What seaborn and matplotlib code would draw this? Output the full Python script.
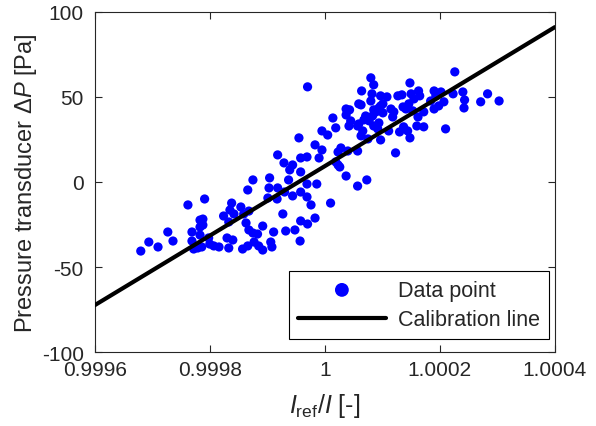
import numpy as np
import pandas as pd
import matplotlib
matplotlib.use("Agg")
import matplotlib.pyplot as plt
import seaborn as sns

# measured points: I_ref/I [-] and pressure transducer dP [Pa]
i_ratio = [
    0.99968, 0.999694, 0.99971, 0.999727, 0.999736, 0.999762, 0.999769, 0.999769,
    0.999772, 0.999779, 0.999783, 0.999783, 0.999783,
    0.999955, 0.999918, 0.999929, 0.999944, 0.999939, 0.999958, 0.999958, 0.999904,
    0.999875, 0.999937, 0.999969, 0.999903, 0.999918, 0.999866, 0.99993, 0.999944,
    0.999958, 0.999917, 0.999791, 0.999838, 0.999854, 0.999901, 0.999835, 0.999868,
    0.999859, 0.999842, 0.999824, 0.999927, 0.999788, 0.999788, 0.999833, 0.999863,
    0.999892, 0.999868, 0.999875, 0.999883, 0.999911, 0.999932, 0.999948, 0.99983,
    0.99984, 0.999798, 0.9998, 0.999807, 0.999816, 0.999833, 0.999786, 0.999857,
    0.999866, 0.999877, 0.999885, 0.999892, 0.999906, 0.999908, 0.999957, 0.999969,
    0.999976, 0.999958,
    1.00001, 0.99997, 0.999983,
    1.00008, 1.000085, 0.99997, 1.000064, 1.000082, 1.000097, 1.000108, 1.000127,
    1.00008, 1.000059, 1.000101, 1.000094, 1.000043, 1.000037, 1.000089, 1.000101,
    1.000083, 1.000071, 1.00012, 1.000014, 1.000068, 1.000045, 1.000042, 1.000019,
    1.000094, 1.000085, 1.000057, 1.000111, 0.999995, 1.000005, 1.000066, 1.000063,
    1.000075, 1.000097, 1.00013, 0.999983, 0.999995, 1.000057, 1.000028, 1.000023,
    1.000123, 0.999969, 0.99999, 1.000023, 1.000019, 1.000026, 1.000037, 0.999986,
    1.000073, 1.000057,
    1.000037, 1.000063, 1.000136, 1.000115, 1.000097, 1.000085, 1.000118, 1.000077,
    1.000092, 1.000059, 1.00004,
    1.000226, 1.000148, 1.000134, 1.00015, 1.000163, 1.000165, 1.000155, 1.000146,
    1.000141, 1.000162, 1.000137, 1.000144, 1.00016, 1.000172, 1.000148, 1.000172,
    1.00019, 1.000193, 1.000202, 1.00019, 1.000198, 1.000207, 1.000223, 1.00024,
    1.000243, 1.000242, 1.000271, 1.000283, 1.000303, 1.00021, 1.000184, 1.000153,
]
delta_p = [
    -40.6, -35.3, -38.2, -29.4, -34.7, -13.5, -29.4, -34.7,
    -39.4, -38.8, -22.4, -26.5, -31.2,
    25.9, 15.9, 11.2, 10.0, 7.1, 14.1, 5.9, 2.4,
    1.2, 1.2, -1.2, -3.5, -3.5, -4.7, -5.9, -8.2,
    -5.9, -10.0, -10.0, -12.4, -14.7, -9.4, -16.5, -17.1,
    -18.8, -18.8, -20.0, -18.8, -21.8, -25.3, -23.5, -24.1,
    -25.9, -28.2, -30.0, -30.6, -29.4, -28.8, -28.2, -32.9,
    -34.1, -32.9, -36.5, -37.6, -38.2, -38.8, -38.2, -39.4,
    -37.6, -35.3, -37.6, -40.0, -35.3, -38.2, -34.7, -8.8,
    -13.5, -22.9,
    -12.4, -24.7, -21.2,
    61.2, 57.1, 55.9, 53.5, 51.8, 50.6, 50.0, 50.6,
    47.6, 45.9, 45.9, 43.5, 42.4, 39.4, 41.2, 40.6,
    38.8, 38.8, 41.2, 37.6, 36.5, 35.9, 32.9, 31.8,
    34.7, 32.9, 32.9, 30.0, 30.0, 27.6, 30.0, 27.1,
    25.3, 24.7, 29.4, 21.8, 18.8, 18.2, 20.0, 17.6,
    17.1, 14.7, 14.1, 10.0, 11.8, 8.8, 3.5, -1.2,
    1.2, -2.4,
    42.9, 45.3, 44.1, 42.9, 44.7, 42.4, 38.2, 35.9,
    31.2, 34.1, 18.2,
    64.7, 58.2, 51.2, 51.8, 53.5, 50.6, 48.8, 45.9,
    42.9, 38.2, 32.4, 30.0, 32.9, 32.4, 25.9, 41.2,
    53.5, 50.6, 52.9, 42.9, 44.7, 47.1, 51.8, 52.9,
    48.2, 43.5, 47.1, 51.8, 47.6, 31.2, 47.6, 41.8,
]

# calibration line dP = slope * (I_ref/I - 1) + offset
calib_slope = 204250.0
calib_offset = 9.3
calib_x = [0.9996, 1.0004]

x_ticks = [0.9996, 0.9998, 1.0, 1.0002, 1.0004]
x_tick_labels = ["0.9996", "0.9998", "1", "1.0002", "1.0004"]
y_ticks = [-100, -50, 0, 50, 100]

points = pd.DataFrame({"ratio": i_ratio, "dp": delta_p})
line = pd.DataFrame({"ratio": calib_x})
line["dp"] = calib_slope * (line["ratio"] - 1.0) + calib_offset

sns.set_style("ticks")
plt.rcParams["font.family"] = ["Liberation Sans", "DejaVu Sans"]
plt.rcParams["mathtext.fontset"] = "custom"
plt.rcParams["mathtext.rm"] = "Liberation Sans"
plt.rcParams["mathtext.it"] = "Liberation Sans:italic"
plt.rcParams["mathtext.bf"] = "Liberation Sans:bold"
plt.rcParams["axes.unicode_minus"] = False

grey = "#262626"
fig = plt.figure(figsize=(5.96, 4.27), dpi=100)
ax = fig.add_axes([0.159, 0.173, 0.772, 0.797])

sns.scatterplot(data=points, x="ratio", y="dp", ax=ax, color="#0000ff",
                s=44, edgecolor="none", label="Data point", zorder=2)
sns.lineplot(data=line, x="ratio", y="dp", ax=ax, color="black",
             linewidth=3, label="Calibration line", zorder=3)

ax.set_xlim(0.9996, 1.0004)
ax.set_ylim(-100, 100)
ax.set_xticks(x_ticks)
ax.set_xticklabels(x_tick_labels)
ax.set_yticks(y_ticks)
ax.tick_params(direction="in", length=5, width=0.8, top=True, right=True,
               labelsize=15, colors=grey)
ax.tick_params(axis="x", pad=6)
ax.tick_params(axis="y", pad=8)
for side in ax.spines.values():
    side.set_visible(True)
    side.set_color(grey)
    side.set_linewidth(0.8)

ax.set_xlabel(r"$I_{\mathrm{ref}}$/$I$ [-]", fontsize=18, color=grey, labelpad=8)
ax.set_ylabel(r"Pressure transducer $\Delta P$ [Pa]", fontsize=17, color=grey,
              labelpad=2)

leg = ax.legend(loc="lower right", fontsize=15.5, frameon=True, fancybox=False,
                edgecolor="black", framealpha=1, markerscale=1.5,
                handlelength=4.1, handletextpad=0.55, borderpad=0.42,
                labelspacing=0.4, borderaxespad=0,
                bbox_to_anchor=(0.987, 0.038))
leg.get_frame().set_linewidth(0.8)

fig.savefig("out.png", dpi=100)
plt.close()
